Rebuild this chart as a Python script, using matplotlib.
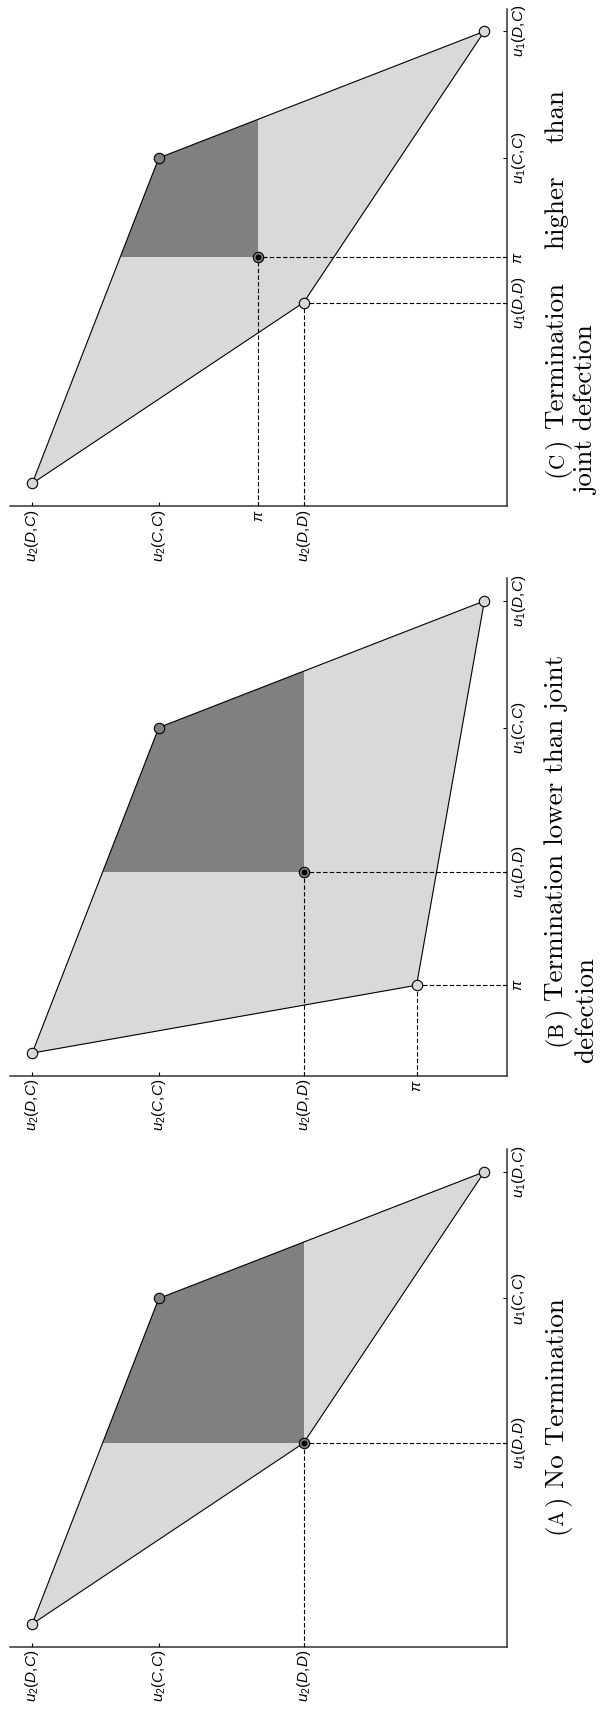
import matplotlib
matplotlib.use('Agg')
import matplotlib.pyplot as plt
from matplotlib.patches import Polygon, Rectangle
from matplotlib.text import Annotation

plt.rcParams['mathtext.fontset'] = 'custom'
plt.rcParams['mathtext.it'] = 'Liberation Sans:italic'
plt.rcParams['mathtext.rm'] = 'Liberation Sans'
plt.rcParams['mathtext.sf'] = 'Liberation Sans'

# symmetric stage-game payoffs
temptation = 2.5   # u(D,C)
reward = 1.8       # u(C,C)
punishment = 1.0   # u(D,D)
sucker = 0.0       # u(C,D)

# termination payoff pi in each panel (None: no termination)
panel_tags = ['A', 'B', 'C']
termination = [None, 0.375, 1.25]

caption_first = ['No Termination', 'Termination lower than joint', 'Termination higher than']
caption_second = [None, 'defection', 'joint defection']

W, H = 600, 1711
light = '#d9d9d9'
dark = '#808080'
margin = 0.125
cap_size = 19.5

# axes placement, pixels from the top-left corner
ax_left_px, ax_size_px = 9.6, 497.4
ax_bottom_px = [1646.6, 1075.7, 506.1]
cap_base_px = [563.5, 593.5]
cap_start_px = [(1534, None), (1046, 1063), (477, 495)]
justify_end_px = 89   # where a justified first line stops
label_gap_px = 7


def fig_pt(x, y):
    return x / W, 1 - y / H


def text_chain(fig, x, y, pieces):
    # pieces: (text, fontsize, gap in px before it), written bottom to top
    prev = None
    for s, size, gap in pieces:
        kw = dict(rotation=90, rotation_mode='anchor', ha='left', va='baseline',
                  fontsize=size, family='cmr10')
        if prev is None:
            prev = fig.text(*fig_pt(x, y - gap), s, **kw)
        else:
            ann = Annotation(s, xy=(x / W, 1.0), xycoords=('figure fraction', prev),
                             xytext=(0, gap * 0.72), textcoords='offset points', **kw)
            fig.add_artist(ann)
            prev = ann
    return prev


fig = plt.figure(figsize=(W / 100, H / 100), dpi=100)
renderer = fig.canvas.get_renderer()

for i, tag in enumerate(panel_tags):
    pi = termination[i]
    low = punishment if pi is None else min(punishment, pi)
    safe = punishment if pi is None else max(punishment, pi)

    ax = fig.add_axes([ax_left_px / W, 1 - ax_bottom_px[i] / H, ax_size_px / W, ax_size_px / H])
    ax.set_facecolor('none')

    # u2 runs right-to-left along the bottom, u1 bottom-to-top on the right
    hull_u1 = [sucker, reward, temptation, low]
    hull_u2 = [temptation, reward, sucker, low]
    verts = list(zip(hull_u2, hull_u1))
    fill = Polygon(verts, closed=True, facecolor=light, edgecolor='none', zorder=1)
    ax.add_patch(fill)
    side = temptation - safe + 1
    rational = Rectangle((safe, safe), side, side, facecolor=dark, edgecolor='none', zorder=2)
    ax.add_patch(rational)
    rational.set_clip_path(fill)
    ax.add_patch(Polygon(verts, closed=True, fill=False, edgecolor='black', lw=0.8, zorder=3))

    lo = sucker - margin
    guides = [safe] if low == safe else [safe, low]
    for v in guides:
        ax.plot([v, v], [lo, v], color='black', lw=0.8, dashes=(4, 2), zorder=4)
        ax.plot([lo, v], [v, v], color='black', lw=0.8, dashes=(4, 2), zorder=4)

    ax.plot([temptation, sucker], [sucker, temptation], 'o', ms=7.5, mfc=light,
            mec='black', mew=0.8, zorder=5)
    ax.plot([reward], [reward], 'o', ms=7.5, mfc=dark, mec='black', mew=0.8, zorder=5)
    if low != safe:
        ax.plot([low], [low], 'o', ms=7.5, mfc=light, mec='black', mew=0.8, zorder=5)
    ax.plot([safe], [safe], 'o', ms=7.5, mfc=dark, mec='black', mew=0.8, zorder=5)
    ax.plot([safe], [safe], 'o', ms=3.2, mfc='black', mec='black', zorder=6)

    ticks = [(punishment, '(D{,}D)'), (reward, '(C{,}C)'), (temptation, '(D{,}C)')]
    vals = [t[0] for t in ticks]
    u1_labels = [r'$u_1%s$' % t[1] for t in ticks]
    u2_labels = [r'$u_2%s$' % t[1] for t in ticks]
    if pi is not None:
        vals.append(pi)
        u1_labels.append(r'$\pi$')
        u2_labels.append(r'$\pi$')

    ax.set_xlim(temptation + margin, lo)
    ax.set_ylim(lo, temptation + margin)
    ax.yaxis.tick_right()
    ax.set_xticks(vals, u2_labels, rotation=90)
    ax.set_yticks(vals, u1_labels, rotation=90, va='center')
    ax.tick_params(direction='in', length=3, width=0.8, pad=2.5, labelsize=11)
    ax.spines[['top', 'left']].set_visible(False)
    for s in ('bottom', 'right'):
        ax.spines[s].set_color('#333333')
        ax.spines[s].set_linewidth(1.1)

    # caption, small-caps panel tag
    y1, y2 = cap_start_px[i]
    label = [('(', cap_size, 0), (tag, cap_size * 0.78, -2), (')', cap_size, 4)]
    if tag == 'C':
        # justified first line: stretch the gaps between words
        head = text_chain(fig, cap_base_px[0], y1, label)
        words = caption_first[i].split()
        arts = [fig.text(0, 0, w, rotation=90, rotation_mode='anchor', ha='left',
                         va='baseline', fontsize=cap_size, family='cmr10') for w in words]
        lens = [a.get_window_extent(renderer).height for a in arts]
        start = head.get_window_extent(renderer).y1 + label_gap_px + 3
        stop = H - justify_end_px
        gap = (stop - start - sum(lens)) / (len(words) - 1)
        pos = start
        for a, ln in zip(arts, lens):
            a.set_position((cap_base_px[0] / W, pos / H))
            pos += ln + gap
    else:
        text_chain(fig, cap_base_px[0], y1, label + [(caption_first[i], cap_size, label_gap_px)])
    if caption_second[i]:
        text_chain(fig, cap_base_px[1], y2, [(caption_second[i], cap_size, 0)])

fig.savefig('out.png', dpi=100)
